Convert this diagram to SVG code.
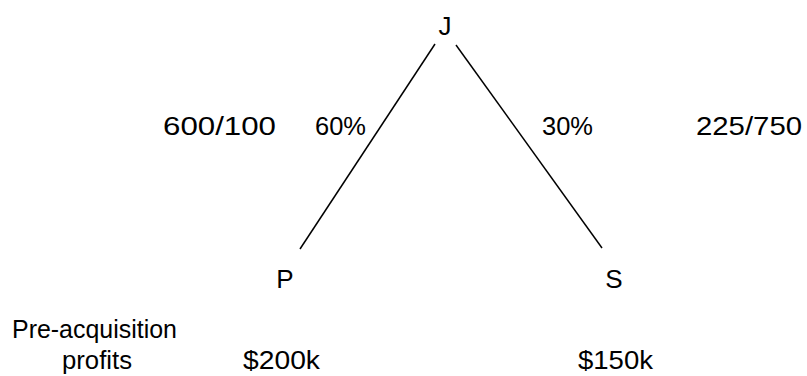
<svg xmlns="http://www.w3.org/2000/svg" width="807" height="376" viewBox="0 0 807 376">
<style>
text{font-family:"Liberation Sans",Arial,sans-serif;font-size:26px;fill:#000}
.c{text-anchor:middle}
line{stroke:#000;stroke-width:1.5}
</style>
<rect width="807" height="376" fill="#fff"/>
<g id="connectors">
<line x1="435" y1="44" x2="300" y2="249"/>
<line x1="456" y1="45" x2="602" y2="248"/>
</g>
<g id="J"><text x="445" y="35" class="c">J</text></g>
<g id="P"><text x="285" y="288" class="c">P</text></g>
<g id="S"><text x="614" y="288" class="c">S</text></g>
<g id="labels">
<text x="163" y="135" textLength="113" lengthAdjust="spacingAndGlyphs">600/100</text>
<text x="315" y="135" textLength="51" lengthAdjust="spacingAndGlyphs">60%</text>
<text x="542" y="135" textLength="51" lengthAdjust="spacingAndGlyphs">30%</text>
<text x="696" y="135" textLength="106" lengthAdjust="spacingAndGlyphs">225/750</text>
<text x="12" y="338" textLength="165" lengthAdjust="spacingAndGlyphs">Pre-acquisition</text>
<text x="62" y="369" textLength="70" lengthAdjust="spacingAndGlyphs">profits</text>
<text x="243" y="369" textLength="77" lengthAdjust="spacingAndGlyphs">$200k</text>
<text x="578" y="369" textLength="75" lengthAdjust="spacingAndGlyphs">$150k</text>
</g>
</svg>
